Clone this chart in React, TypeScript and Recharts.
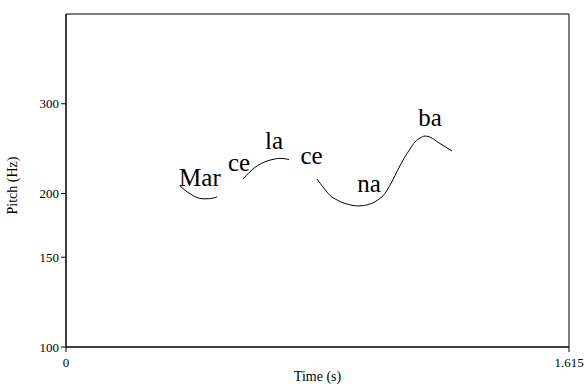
import React from "react";
import {
  ComposedChart,
  Line,
  Scatter,
  XAxis,
  YAxis,
  ReferenceArea,
  Label,
} from "recharts";

const SERIF = "Liberation Serif, Times New Roman, serif";

// pitch contour, one piece per voiced stretch (time in s, pitch in Hz)
const marTimes = [0.366, 0.38, 0.4, 0.42, 0.44, 0.46, 0.485];
const marHz = [207, 203.5, 199.5, 196.5, 195.3, 195.4, 197];

const celaTimes = [0.568, 0.588, 0.607, 0.629, 0.649, 0.668, 0.684, 0.7, 0.716];
const celaHz = [213.5, 219.8, 225.1, 229.4, 232.0, 233.6, 234.4, 234.2, 233.0];

const cenabaTimes = [
  0.806, 0.828, 0.848, 0.872, 0.896, 0.918, 0.9375, 0.955, 0.97, 0.9985, 1.0242,
  1.0467, 1.066, 1.0852, 1.1045, 1.1205, 1.1366, 1.1527, 1.1719, 1.1944, 1.2169,
  1.2393,
];
const cenabaHz = [
  213.5, 205, 198.2, 194, 191.2, 189.7, 189.1, 189.4, 190.3, 193.8, 200.1,
  211.2, 222.9, 234.3, 244.5, 252.4, 256.9, 259.3, 257.5, 252.1, 247.3, 242.3,
];

// syllable annotations, placed at (time, pitch) of their text baseline
const syllables = ["Mar", "ce", "la", "ce", "na", "ba"];
const syllableTimes = [0.43, 0.5555, 0.6678, 0.7882, 0.9729, 1.1687];
const syllableHz = [206.7, 221.8, 244.5, 228.6, 201.2, 271.6];

const timeTicks = [0, 1.615];
const pitchTicks = [100, 150, 200, 300];
const timeDomain: [number, number] = [0, 1.615];
const pitchDomain: [number, number] = [100, 450];

const toPoints = (ts: number[], hz: number[]) =>
  ts.map((t, i) => ({ t, hz: hz[i] }));

const segments = [
  toPoints(marTimes, marHz),
  toPoints(celaTimes, celaHz),
  toPoints(cenabaTimes, cenabaHz),
];

const syllablePoints = syllables.map((text, i) => ({
  t: syllableTimes[i],
  hz: syllableHz[i],
  text,
}));

const tickStyle = { fill: "#000", fontSize: 13, fontFamily: SERIF };

const SyllableText = (p: any) => (
  <text
    x={p.cx}
    y={p.cy}
    textAnchor="middle"
    fill="#000"
    fontSize={25}
    fontFamily={SERIF}
  >
    {p.payload.text}
  </text>
);

export default function App() {
  return (
    <div style={{ position: "absolute", left: 0, top: 0, background: "#fff" }}>
      <ComposedChart
        width={585}
        height={384}
        margin={{ top: 14, right: 16, bottom: 0, left: 0 }}
      >
        <XAxis
          type="number"
          dataKey="t"
          domain={timeDomain}
          ticks={timeTicks}
          allowDataOverflow
          height={37}
          stroke="#000"
          tickSize={5}
          tickMargin={6}
          tick={tickStyle}
          tickFormatter={(v: number) => String(v)}
        >
          <Label
            value="Time (s)"
            position="insideBottom"
            offset={3}
            style={{ fill: "#000", fontSize: 14, fontFamily: SERIF }}
          />
        </XAxis>
        <YAxis
          type="number"
          scale="log"
          dataKey="hz"
          domain={pitchDomain}
          ticks={pitchTicks}
          allowDataOverflow
          width={66}
          stroke="#000"
          tickSize={5}
          tickMargin={2}
          tick={tickStyle}
        >
          <Label
            content={({ viewBox }: any) => {
              const cx = 12;
              const cy = viewBox.y + viewBox.height / 2 + 5;
              return (
                <text
                  x={cx}
                  y={cy}
                  transform={`rotate(-90, ${cx}, ${cy})`}
                  textAnchor="middle"
                  dominantBaseline="central"
                  fill="#000"
                  fontSize={14}
                  fontFamily={SERIF}
                >
                  Pitch (Hz)
                </text>
              );
            }}
          />
        </YAxis>
        <ReferenceArea
          x1={timeDomain[0]}
          x2={timeDomain[1]}
          y1={pitchDomain[0]}
          y2={pitchDomain[1]}
          fill="none"
          stroke="#000"
          strokeWidth={1}
          ifOverflow="visible"
        />
        {segments.map((seg, i) => (
          <Line
            key={i}
            data={seg}
            dataKey="hz"
            type="monotone"
            stroke="#000"
            strokeWidth={1}
            dot={false}
            activeDot={false}
            isAnimationActive={false}
          />
        ))}
        <Scatter
          data={syllablePoints}
          dataKey="hz"
          shape={SyllableText}
          isAnimationActive={false}
        />
      </ComposedChart>
    </div>
  );
}
